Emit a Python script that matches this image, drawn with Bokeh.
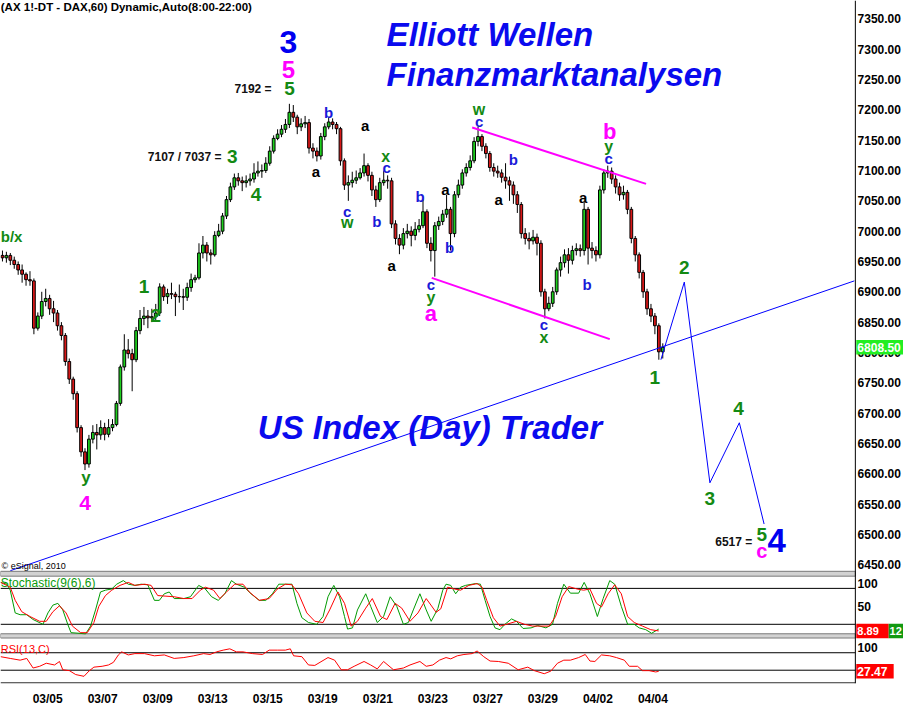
from bokeh.plotting import figure
from bokeh.models import ColumnDataSource, Range1d, FixedTicker
from bokeh.core.properties import value
from bokeh.embed import file_html
from bokeh.resources import INLINE

FONT = "Liberation Sans"

# ---------------- data ----------------
# hourly-ish DAX bars, trading-day index: 03/05 = 0
first_open = 6960
close = [
    6956, 6960, 6952, 6945, 6936, 6929, 6920, 6918, 6840, 6860,
    6884, 6889, 6872, 6865, 6844, 6828, 6785, 6756, 6732, 6676,
    6636, 6616, 6657, 6668, 6664, 6676, 6665, 6676, 6681, 6716,
    6776, 6804, 6798, 6788, 6836, 6856, 6860, 6857, 6859, 6865,
    6908, 6892, 6897, 6896, 6892, 6892, 6891, 6907, 6920, 6923,
    6964, 6977, 6964, 6961, 6993, 7000, 7025, 7052, 7073, 7088,
    7083, 7080, 7083, 7086, 7096, 7099, 7100, 7112, 7132, 7153,
    7160, 7168, 7176, 7196, 7188, 7172, 7177, 7179, 7137, 7132,
    7124, 7156, 7172, 7180, 7176, 7169, 7116, 7076, 7080, 7084,
    7088, 7096, 7108, 7092, 7068, 7052, 7080, 7084, 7083, 7012,
    6988, 6977, 6996, 7000, 6993, 7003, 7009, 7032, 6980, 6968,
    7009, 7016, 7028, 7036, 6996, 7060, 7076, 7096, 7105, 7116,
    7148, 7156, 7140, 7128, 7105, 7099, 7096, 7089, 7083, 7076,
    7060, 7044, 6996, 6988, 6984, 6990, 6980, 6900, 6872, 6881,
    6900, 6936, 6948, 6961, 6952, 6968, 6971, 6968, 7036, 6972,
    6968, 6961, 7068, 7096, 7099, 7086, 7073, 7060, 7064, 7036,
    6988, 6961, 6932, 6900, 6872, 6860, 6844, 6801, 6808.5]
high = [
    6968, 6966, 6964, 6958, 6950, 6945, 6932, 6934, 6922, 6866,
    6900, 6905, 6895, 6885, 6870, 6850, 6832, 6790, 6760, 6736,
    6680, 6642, 6664, 6680, 6682, 6688, 6684, 6690, 6690, 6720,
    6780, 6830, 6822, 6806, 6842, 6870, 6875, 6870, 6872, 6880,
    6914, 6912, 6905, 6915, 6900, 6912, 6905, 6915, 6930, 6928,
    6980, 6992, 6982, 6970, 7000, 7012, 7030, 7058, 7080, 7095,
    7096, 7090, 7092, 7095, 7112, 7115, 7110, 7122, 7140, 7158,
    7168, 7175, 7185, 7210, 7208, 7192, 7186, 7190, 7185, 7145,
    7138, 7162, 7178, 7188, 7186, 7180, 7172, 7120, 7092, 7098,
    7100, 7104, 7128, 7112, 7098, 7075, 7088, 7100, 7092, 7088,
    7018, 6995, 7005, 7012, 7008, 7015, 7020, 7052, 7036, 6990,
    7015, 7024, 7035, 7060, 7040, 7066, 7085, 7102, 7112, 7125,
    7155, 7172, 7160, 7145, 7132, 7112, 7108, 7102, 7112, 7090,
    7082, 7066, 7048, 7005, 6998, 7002, 6996, 6985, 6905, 6892,
    6908, 6940, 6958, 6970, 6972, 6976, 6980, 6978, 7048, 7040,
    6982, 6975, 7075, 7102, 7108, 7105, 7092, 7080, 7075, 7068,
    7040, 6992, 6965, 6936, 6905, 6880, 6865, 6848, 6815]
low = [
    6950, 6948, 6944, 6938, 6928, 6915, 6910, 6910, 6830, 6836,
    6855, 6876, 6862, 6850, 6836, 6820, 6778, 6748, 6722, 6668,
    6628, 6606, 6610, 6650, 6640, 6656, 6655, 6660, 6670, 6678,
    6712, 6770, 6790, 6736, 6784, 6830, 6845, 6840, 6850, 6852,
    6860, 6885, 6880, 6888, 6860, 6882, 6870, 6885, 6900, 6915,
    6920, 6955, 6950, 6945, 6958, 6990, 6995, 7020, 7048, 7068,
    7075, 7066, 7072, 7075, 7080, 7090, 7088, 7096, 7108, 7128,
    7150, 7155, 7162, 7170, 7180, 7160, 7165, 7170, 7128, 7120,
    7115, 7118, 7150, 7168, 7168, 7160, 7108, 7068, 7050, 7072,
    7078, 7085, 7090, 7082, 7058, 7040, 7048, 7075, 7070, 7005,
    6978, 6962, 6970, 6988, 6975, 6985, 6998, 7005, 6972, 6950,
    6925, 7002, 7010, 7022, 6968, 6990, 7055, 7070, 7090, 7100,
    7112, 7140, 7132, 7120, 7098, 7090, 7088, 7080, 7070, 7050,
    7045, 7030, 6988, 6978, 6970, 6978, 6960, 6892, 6856, 6868,
    6875, 6895, 6925, 6940, 6930, 6945, 6960, 6958, 6960, 6945,
    6955, 6950, 6955, 7062, 7088, 7078, 7062, 7050, 7052, 7028,
    6980, 6950, 6922, 6890, 6862, 6850, 6830, 6788, 6790]

# date axis (trading-day index)
date_pos = [0, 2, 4, 6, 8, 10, 12, 14, 16, 18, 20, 22]
date_labels = ["03/05", "03/07", "03/09", "03/13", "03/15", "03/19",
               "03/21", "03/23", "03/27", "03/29", "04/02", "04/04"]
# price scale (right side) and indicator scale labels
price_ticks = [6450, 6500, 6550, 6600, 6650, 6700, 6750, 6800, 6850, 6900,
               6950, 7000, 7050, 7100, 7150, 7200, 7250, 7300, 7350]
price_tick_labels = [f"{t}.00" for t in price_ticks]
stoch_tick_pos = [88, 49]          # label "100" sits just under the panel top
stoch_tick_labels = ["100", "50"]
rsi_tick_pos = [82]
rsi_tick_labels = ["100"]
last_price = 6808.5

# trend line, channel, projected path
trend_day = [-1.357, 29.32]
trend_price = [6440, 6918]
chan_up_day = [15.43, 21.75]
chan_up_price = [7171, 7078]
chan_lo_day = [13.96, 20.43]
chan_lo_price = [6923, 6822]
proj_day = [22.29, 23.14, 24.07, 25.14, 26.04]
proj_price = [6788, 6916, 6585, 6684, 6517]

# Stochastic(9(6),6)
stoch_k_day = [-1.71, -1.48, -1.36, -1.18, -1.00, -0.76, -0.53, -0.17, 0.01, 0.19, 0.37, 0.55,
               0.73, 0.85, 1.14, 1.38, 1.56, 1.74, 1.92, 2.10, 2.33, 2.51, 2.75, 2.93, 3.17,
               3.40, 3.64, 3.88, 4.06, 4.24, 4.42, 4.60, 4.95, 5.19, 5.49, 5.73, 5.96, 6.20,
               6.44, 6.68, 6.86, 7.15, 7.39, 7.69, 7.93, 8.17, 8.40, 8.64, 8.88, 9.06, 9.24,
               9.48, 9.78, 10.01, 10.19, 10.40, 10.61, 10.79, 10.90, 11.08, 11.26, 11.56,
               11.74, 11.98, 12.21, 12.45, 12.69, 12.93, 13.11, 13.29, 13.53, 13.76, 13.94,
               14.18, 14.36, 14.48, 14.65, 14.83, 15.01, 15.19, 15.55, 15.73, 15.90, 16.08,
               16.26, 16.44, 16.62, 16.86, 17.04, 17.28, 17.57, 17.81, 18.11, 18.35, 18.53,
               18.76, 19.00, 19.30, 19.50, 19.71, 19.98, 20.19, 20.43, 20.61, 20.85, 21.08,
               21.32, 21.50, 21.74, 21.95, 22.21]
stoch_k = [90, 87, 77, 39, 36, 36, 28, 20, 39, 52, 55, 44, 20, 6, 5, 4, 17, 44, 74, 77, 79,
           87, 93, 87, 85, 87, 86, 60, 60, 71, 74, 63, 63, 66, 85, 79, 66, 60, 71, 93, 87,
           82, 71, 60, 60, 71, 87, 87, 87, 55, 31, 23, 20, 33, 66, 85, 66, 33, 12, 14, 44,
           71, 50, 23, 33, 66, 50, 20, 23, 44, 71, 44, 25, 46, 77, 87, 85, 71, 82, 85, 88,
           87, 60, 33, 14, 11, 20, 29, 25, 13, 14, 18, 14, 20, 55, 87, 72, 72, 90, 71, 33,
           63, 93, 87, 50, 20, 20, 14, 11, 5, 12]
stoch_d_day = [-1.71, -1.36, -1.18, -0.94, -0.64, -0.29, -0.05, 0.19, 0.43, 0.67, 0.90, 1.20,
               1.44, 1.68, 1.86, 2.10, 2.33, 2.63, 2.93, 3.17, 3.53, 3.76, 4.00, 4.30, 4.60,
               4.95, 5.25, 5.55, 5.73, 6.03, 6.26, 6.50, 6.80, 7.10, 7.33, 7.69, 8.05, 8.35,
               8.64, 8.88, 9.12, 9.42, 9.71, 10.01, 10.25, 10.55, 10.79, 11.03, 11.26, 11.56,
               11.80, 12.10, 12.33, 12.63, 12.87, 13.17, 13.46, 13.76, 14.12, 14.29, 14.54,
               14.78, 15.01, 15.31, 15.61, 15.79, 15.96, 16.20, 16.44, 16.68, 17.04, 17.33,
               17.63, 17.93, 18.23, 18.46, 18.70, 18.94, 19.24, 19.48, 19.71, 19.95, 20.13,
               20.37, 20.61, 20.85, 21.08, 21.32, 21.62, 21.92, 22.21]
stoch_d = [90, 82, 60, 41, 33, 25, 25, 41, 51, 39, 17, 6, 6, 23, 50, 68, 77, 85, 90, 85, 87,
           85, 68, 67, 66, 63, 63, 77, 82, 77, 63, 74, 87, 87, 74, 60, 63, 79, 87, 86, 71,
           39, 25, 23, 44, 74, 55, 17, 25, 47, 63, 33, 28, 55, 47, 25, 39, 63, 40, 46, 82,
           79, 77, 85, 88, 82, 60, 31, 17, 20, 25, 20, 17, 17, 17, 33, 66, 83, 79, 77, 79,
           55, 49, 71, 86, 71, 33, 23, 17, 11, 8.89]

# RSI(13,C)
rsi_day = [-1.71, -1.36, -1.00, -0.76, -0.53, -0.29, -0.05, 0.25, 0.43, 0.55, 0.79, 1.02,
           1.32, 1.50, 1.68, 1.98, 2.21, 2.39, 2.57, 2.69, 2.93, 3.17, 3.52, 3.88, 4.24,
           4.60, 4.95, 5.31, 5.67, 5.90, 6.14, 6.38, 6.62, 6.86, 7.10, 7.45, 7.81, 8.05,
           8.35, 8.64, 8.82, 8.94, 9.24, 9.48, 9.71, 10.19, 10.43, 10.67, 10.90, 11.14,
           11.50, 11.74, 11.98, 12.21, 12.57, 12.93, 13.17, 13.53, 13.76, 14.00, 14.24,
           14.48, 14.65, 14.89, 15.13, 15.43, 15.61, 15.85, 16.08, 16.38, 16.74, 17.10,
           17.45, 17.69, 18.05, 18.29, 18.53, 18.76, 19.00, 19.30, 19.54, 19.71, 19.89,
           20.13, 20.43, 20.67, 20.96, 21.14, 21.44, 21.62, 21.86, 22.10, 22.21]
rsi = [61, 57, 53, 57, 35, 39, 46, 42, 50, 31, 29, 20, 16, 28, 37, 39, 42, 48, 65, 72, 65,
       68, 68, 63, 65, 57, 59, 63, 68, 66, 72, 76, 79, 72, 72, 68, 66, 76, 76, 76, 79, 63,
       61, 42, 41, 59, 53, 31, 31, 39, 50, 42, 33, 50, 31, 35, 42, 50, 39, 42, 53, 59, 56,
       63, 66, 68, 74, 61, 51, 50, 46, 31, 37, 29, 22, 28, 46, 53, 53, 59, 66, 51, 50, 65,
       63, 59, 53, 39, 39, 29, 29, 26, 27.47]
stoch_levels = [80, 20]
rsi_levels = [70, 30]

# Elliott-wave annotations
GREEN, BLUE, BIGBLUE, MAG, BLACK = "#138a13", "#1a1ad8", "#0000f0", "#ff00ff", "#000000"
wave_text = ["3", "5", "5", "3", "4", "1", "2", "y", "4",
             "a", "b", "c", "w", "a", "x", "c", "b", "a", "b",
             "c", "y", "a", "a", "b", "w", "c", "a", "b", "c",
             "x", "a", "b", "b", "y", "c", "2", "1", "3", "4",
             "5", "c", "4"]
wave_day = [8.75, 8.75, 8.79, 6.71, 7.57, 3.50, 3.93, 1.39, 1.36,
            9.75, 10.21, 10.89, 10.89, 11.54, 12.29, 12.32, 11.96, 12.50, 13.54,
            13.93, 13.93, 13.93, 14.46, 14.61, 15.68, 15.68, 16.39, 16.93, 18.04,
            18.04, 19.46, 19.61, 20.43, 20.39, 20.39, 23.14, 22.07, 24.07, 25.11,
            25.96, 25.96, 26.50]
wave_price = [7311.6, 7266.8, 7234.8, 7122.8, 7060.4, 6908.4, 6860.4, 6593.2, 6551.6,
              7097.6, 7196.4, 7033.2, 7014.0, 7174.0, 7122.8, 7105.2, 7015.6, 6943.6, 7057.2,
              6911.6, 6890.8, 6863.6, 7068.4, 6972.4, 7201.2, 7180.4, 7052.4, 7118.0, 6846.0,
              6825.2, 7055.6, 6911.6, 7164.4, 7140.4, 7120.0, 6940.4, 6758.0, 6559.6, 6707.0,
              6500.4, 6473.2, 6489.2]
wave_color = [BIGBLUE, MAG, GREEN, GREEN, GREEN, GREEN, GREEN, GREEN, MAG,
              BLACK, BLUE, BLUE, GREEN, BLACK, GREEN, BLUE, BLUE, BLACK, BLUE,
              BLUE, GREEN, MAG, BLACK, BLUE, GREEN, BLUE, BLACK, BLUE, BLUE,
              GREEN, BLACK, BLUE, MAG, GREEN, BLUE, GREEN, GREEN, GREEN, GREEN,
              GREEN, MAG, BIGBLUE]
wave_size = ["32px", "24px", "19px", "19px", "19px", "19px", "19px", "17px", "21px",
             "15px", "15px", "15px", "16px", "15px", "16px", "15px", "15px", "15px", "15px",
             "15px", "16px", "22px", "15px", "15px", "16px", "15px", "15px", "15px", "15px",
             "16px", "15px", "15px", "22px", "16px", "15px", "19px", "19px", "19px", "19px",
             "19px", "20px", "33px"]
level_text = ["7192 =", "7107 / 7037 =", "6517 ="]
level_day = [8.14, 6.32, 25.61]
level_price = [7234.8, 7122.8, 6487.6]

# ---------------- figure ----------------
X0, XA, X1 = -1.714, 29.357, 31.107     # left edge, price-scale position, right edge
Y0, Y1 = 6254, 7380.4
p = figure(frame_width=903, frame_height=683,
           x_range=Range1d(X0, X1), y_range=Range1d(Y0, Y1),
           output_backend="svg", toolbar_location=None,
           y_axis_location=None, x_axis_location="below",
           min_border_left=0, min_border_top=0, min_border_right=0, min_border_bottom=18)
p.outline_line_color = None
p.xgrid.visible = False
p.ygrid.visible = False
p.background_fill_color = "white"
p.border_fill_color = "white"
p.extra_y_ranges = {"stoch": Range1d(-78.9, 1062.1), "rsi": Range1d(-0.44, 1564)}

# candles
opens = [first_open] + close[:-1]
bar_day = [-2 + (i + 2.5) / 7 for i in range(len(close))]
cols = ["#1ed01e" if c >= o else "#d81818" for o, c in zip(opens, close)]
src = ColumnDataSource(dict(x=bar_day, o=opens, c=close, h=high, l=low, col=cols))
p.segment(x0="x", y0="l", x1="x", y1="h", source=src, line_color="black", line_width=1)
p.vbar(x="x", top="o", bottom="c", width=0.1, fill_color="col", line_color="black",
       line_width=1, source=src)

# lines
p.line(trend_day, trend_price, line_color="#0000ff", line_width=1)
p.line(proj_day, proj_price, line_color="#0000ff", line_width=1)
p.line(chan_up_day, chan_up_price, line_color="#ff00ff", line_width=2)
p.line(chan_lo_day, chan_lo_price, line_color="#ff00ff", line_width=2)

# panel separators, bottom line and price-scale line
for top, bot in [(6439, 6431), (6336, 6329)]:
    p.quad(left=X0, right=XA, top=top, bottom=bot, fill_color="#d2d2d2",
           line_color="#7a7a7a", line_width=1)
p.segment(x0=[X0, XA], y0=[6255, Y0], x1=[XA, XA], y1=[6255, Y1],
          line_color="black", line_width=1)

# stochastic panel
p.segment(x0=[X0] * 2, x1=[XA] * 2, y0=stoch_levels, y1=stoch_levels, y_range_name="stoch",
          line_color="black", line_width=1)
p.line(stoch_k_day, stoch_k, y_range_name="stoch", line_color="#009a00", line_width=1)
p.line(stoch_d_day, stoch_d, y_range_name="stoch", line_color="#ff0000", line_width=1)
p.text(x=[X0 + 0.01], y=[89.6], text=["Stochastic(9(6),6)"], y_range_name="stoch",
       text_color="#0a9a0a", text_font=value(FONT), text_font_size="12px",
       text_baseline="middle", text_align="left")

# RSI panel
p.segment(x0=[X0] * 2, x1=[XA] * 2, y0=rsi_levels, y1=rsi_levels, y_range_name="rsi",
          line_color="black", line_width=1)
p.line(rsi_day, rsi, y_range_name="rsi", line_color="#ff0000", line_width=1)
p.text(x=[X0 + 0.01], y=[79.6], text=["RSI(13,C)"], y_range_name="rsi",
       text_color="#ff0000", text_font=value(FONT), text_font_size="11px",
       text_baseline="middle", text_align="left")

# scale labels right of the price-scale line, placed through the y scales
TICK_STYLE = dict(text_color="black", text_font=value(FONT), text_font_style="bold",
                  text_font_size="12px", text_align="left", text_baseline="middle")
LX = XA + 0.08
p.text(x=[LX] * len(price_ticks), y=price_ticks, text=price_tick_labels, **TICK_STYLE)
p.text(x=[LX] * len(stoch_tick_pos), y=stoch_tick_pos, text=stoch_tick_labels,
       y_range_name="stoch", **TICK_STYLE)
p.text(x=[LX] * len(rsi_tick_pos), y=rsi_tick_pos, text=rsi_tick_labels,
       y_range_name="rsi", **TICK_STYLE)

# wave labels
wsrc = ColumnDataSource(dict(x=wave_day, y=wave_price, t=wave_text, c=wave_color, s=wave_size))
p.text(x="x", y="y", text="t", text_color="c", text_font_size="s", source=wsrc,
       text_font=value(FONT), text_font_style="bold", text_align="center",
       text_baseline="middle")
p.text(x=[X0 + 0.01], y=[6991.6], text=["b/x"], text_color=GREEN, text_font=value(FONT),
       text_font_style="bold", text_font_size="15px", text_align="left",
       text_baseline="middle")
p.text(x=level_day, y=level_price, text=level_text, text_color="#111111",
       text_font=value(FONT), text_font_style="bold", text_font_size="12px",
       text_align="right", text_baseline="middle")

# titles
p.text(x=[12.32, 12.32], y=[7324.4, 7258.8], text=["Elliott Wellen", "Finanzmarktanalysen"],
       text_color="#0a0aee", text_font=value(FONT), text_font_style="bold italic",
       text_font_size="33px", text_align="left", text_baseline="middle")
p.text(x=[7.64], y=[6676.4], text=["US Index (Day) Trader"],
       text_color="#0a0aee", text_font=value(FONT), text_font_style="bold italic",
       text_font_size="33px", text_align="left", text_baseline="middle")
p.text(x=[X0 + 0.01], y=[7369.2], text=["(AX 1!-DT - DAX,60) Dynamic,Auto(8:00-22:00)"],
       text_color="black", text_font=value(FONT), text_font_style="bold",
       text_font_size="11.5px", text_align="left", text_baseline="middle")
p.text(x=[X0 + 0.04], y=[6447.6], text=["\u00a9 eSignal, 2010"],
       text_color="black", text_font=value(FONT), text_font_size="9px",
       text_align="left", text_baseline="middle")

# date axis
p.xaxis.ticker = FixedTicker(ticks=date_pos)
p.xaxis.major_label_overrides = dict(zip(date_pos, date_labels))
p.xaxis.major_label_text_font = FONT
p.xaxis.major_label_text_font_style = "bold"
p.xaxis.major_label_text_font_size = "12px"
p.xaxis.major_label_text_color = "black"
p.xaxis.major_tick_line_color = None
p.xaxis.minor_tick_line_color = None
p.xaxis.major_label_standoff = 2
p.xaxis.axis_line_color = None

# current-value boxes on the price scale
BX = 29.39
p.quad(left=[BX], right=[X1], top=[last_price + 12], bottom=[last_price - 12],
       fill_color="#22ee22", line_color=None)
p.text(x=[BX + 0.04], y=[last_price], text=[f"{last_price:.2f}"], text_color="white",
       text_font=value(FONT), text_font_style="bold", text_font_size="12px",
       text_align="left", text_baseline="middle")
p.quad(left=[BX, 30.57], right=[30.57, X1], top=[stoch_d[-1] + 12] * 2,
       bottom=[stoch_d[-1] - 12] * 2, fill_color=["#ff0000", "#119911"], line_color=None,
       y_range_name="stoch")
p.text(x=[BX + 0.04, 30.6], y=[stoch_d[-1]] * 2,
       text=[f"{stoch_d[-1]:.2f}", f"{stoch_k[-1]:.0f}"], text_color="white",
       text_font=value(FONT), text_font_style="bold", text_font_size="11px",
       text_align="left", text_baseline="middle", y_range_name="stoch")
p.quad(left=[BX], right=[30.75], top=[rsi[-1] + 16.5], bottom=[rsi[-1] - 16.5],
       fill_color="#ff0000", line_color=None, y_range_name="rsi")
p.text(x=[BX + 0.04], y=[rsi[-1]], text=[f"{rsi[-1]:.2f}"], text_color="white",
       text_font=value(FONT), text_font_style="bold", text_font_size="12px",
       text_align="left", text_baseline="middle", y_range_name="rsi")

open("out.html", "w").write(file_html(p, INLINE))
